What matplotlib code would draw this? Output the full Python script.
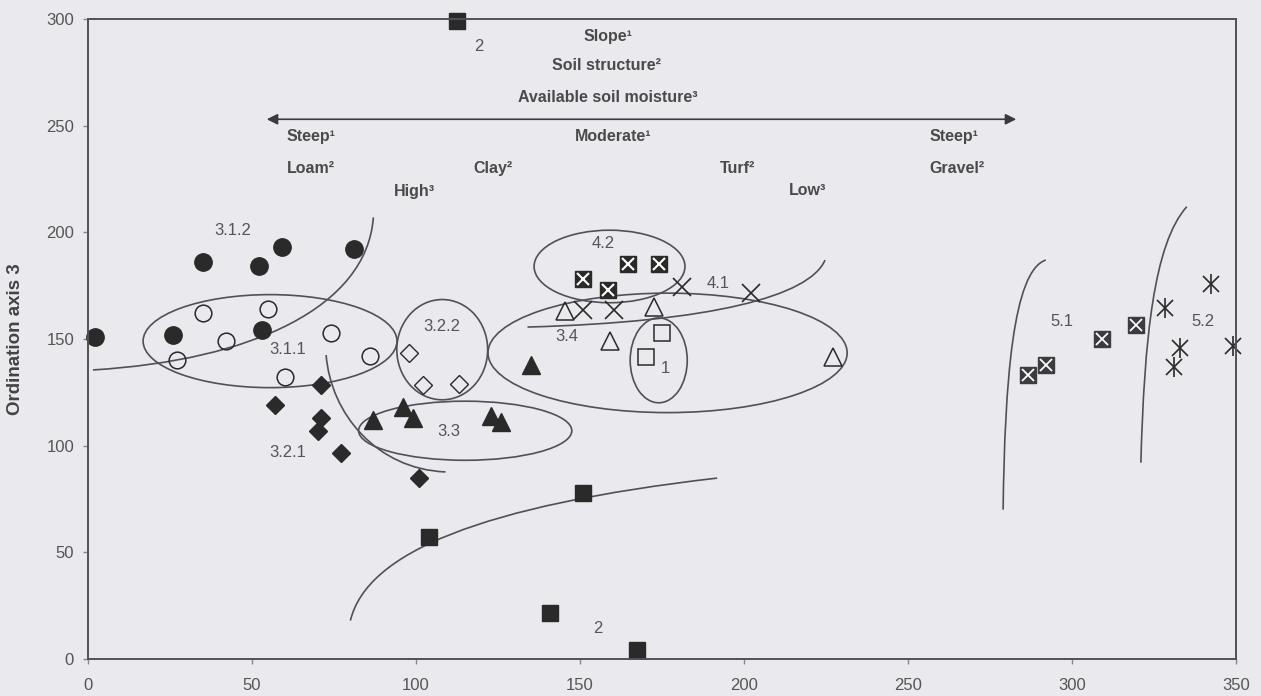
import matplotlib
matplotlib.use("Agg")
import matplotlib.pyplot as plt
from matplotlib.patches import Ellipse, PathPatch
from matplotlib.path import Path

plt.rcParams['font.family'] = ['Liberation Sans', 'DejaVu Sans']

# ordination scores
g312_x = [2, 26, 35, 52, 53, 59, 81]
g312_y = [151, 152, 186, 184, 154, 193, 192]
g311_x = [27, 35, 42, 55, 60, 74, 86]
g311_y = [140, 162, 149, 164, 132, 153, 142]
g321_x = [57, 70, 71, 71, 77, 101]
g321_y = [119, 107, 113, 128.5, 96.5, 85]
g322_x = [98, 102, 113]
g322_y = [143.5, 128.5, 129]
g33_x = [87, 96, 99, 123, 126, 135]
g33_y = [112, 118, 113, 114, 111, 138]
g34_x = [145.5, 159, 172.5, 227]
g34_y = [163, 149, 165, 141.5]
g1_x = [170, 175]
g1_y = [141.5, 153]
g41_x = [151, 160.5, 181, 202]
g41_y = [163.5, 163.5, 174.5, 171.5]
g42_x = [151, 158.5, 164.5, 174]
g42_y = [178, 173, 185, 185]
g2_x = [112.5, 104, 151, 141, 167.5]
g2_y = [299, 57, 78, 21.5, 4]
g51_x = [286.5, 292, 309, 319.5]
g51_y = [133, 138, 150, 156.5]
g52_x = [328.5, 331, 333, 342.5, 349]
g52_y = [164.5, 137, 146, 176, 146.5]

x_ticks = [0, 50, 100, 150, 200, 250, 300, 350]
y_ticks = [0, 50, 100, 150, 200, 250, 300]

# group outlines: (centre x, centre y, width, height)
ellipses = [(55.5, 149, 77.4, 43.6), (108, 145, 27.7, 47), (115, 107, 65, 27.7),
            (176.7, 143.5, 109.5, 56), (174, 140, 17.4, 39.8), (159, 184, 46, 34)]
# hand-drawn boundaries as cubic bezier control points
boundaries = [
    [(1.5, 135.5), (50, 140), (85, 165), (87, 207)],
    [(72.6, 142.5), (74, 115), (88, 89), (109, 87.7)],
    [(80, 18), (85, 50), (120, 72), (191.8, 84.8)],
    [(134, 155.6), (190, 158), (220, 170), (224.7, 187)],
    [(279, 70), (279.5, 130), (282, 182), (292, 187)],
    [(321, 92), (322, 150), (325, 195), (335, 212)],
]

group_labels = ["3.1.2", "3.1.1", "3.2.1", "3.2.2", "3.3", "3.4", "4.2", "4.1",
                "1", "2", "2", "5.1", "5.2"]
group_label_x = [44, 61, 61, 108, 110, 146, 157, 192, 176, 119, 155.5, 297, 340]
group_label_y = [201, 145, 97, 156, 106.5, 151, 195, 176, 136, 287, 14.5, 158, 158]

gradient_text = ["Slope¹", "Soil structure²", "Available soil moisture³",
                 "Steep¹", "Loam²", "High³", "Clay²", "Moderate¹", "Turf²", "Low³",
                 "Steep¹", "Gravel²"]
gradient_x = [158.5, 158, 158.5, 68, 68, 99.5, 123.5, 160, 198, 219.5, 264, 265]
gradient_y = [292, 278, 263, 245, 230, 219, 230, 245, 230, 219.5, 245, 230]

bg = "#e9e9ee"
ink = "#2a2a2a"
line_c = "#505058"
txt_c = "#555555"

fig = plt.figure(figsize=(12.61, 6.96), dpi=100, facecolor=bg)
ax = fig.add_axes([88 / 1261, 37 / 696, 1148 / 1261, 640 / 696])
ax.set_facecolor(bg)
ax.set_xlim(0, 350)
ax.set_ylim(0, 300)

for e in ellipses:
    ax.add_patch(Ellipse((e[0], e[1]), e[2], e[3], fill=False, ec=line_c, lw=1.2))
for b in boundaries:
    path = Path(b, [Path.MOVETO, Path.CURVE4, Path.CURVE4, Path.CURVE4])
    ax.add_patch(PathPatch(path, fill=False, ec=line_c, lw=1.2))

ax.plot(g312_x, g312_y, 'o', ms=12.5, color=ink, ls='none', clip_on=False)
ax.plot(g311_x, g311_y, 'o', ms=12, mfc='none', mec=ink, mew=1.1, ls='none')
ax.plot(g321_x, g321_y, 'D', ms=8.8, color=ink, ls='none')
ax.plot(g322_x, g322_y, 'D', ms=9.6, mfc='none', mec=ink, mew=1.0, ls='none')
ax.plot(g33_x, g33_y, '^', ms=13, color=ink, ls='none')
ax.plot(g34_x, g34_y, '^', ms=13, mfc='none', mec=ink, mew=1.1, ls='none')
ax.plot(g1_x, g1_y, 's', ms=11.5, mfc='none', mec=ink, mew=1.1, ls='none')
ax.plot(g41_x, g41_y, 'x', ms=12.5, color=ink, mew=1.2, ls='none')
ax.plot(g42_x, g42_y, 's', ms=12, color=ink, ls='none')
ax.plot(g42_x, g42_y, 'x', ms=9, color='white', mew=1.5, ls='none')
ax.plot(g2_x, g2_y, 's', ms=11, color=ink, ls='none', clip_on=False)
ax.plot(g51_x, g51_y, 's', ms=11.5, color='#3c3c40', ls='none')
ax.plot(g51_x, g51_y, 'x', ms=8.5, color='white', mew=1.3, ls='none')
ax.plot(g52_x, g52_y, 'x', ms=12, color=ink, mew=1.2, ls='none', clip_on=False)
ax.plot(g52_x, g52_y, '|', ms=14, color=ink, mew=1.2, ls='none', clip_on=False)

# environmental gradient arrow
ax.annotate('', xy=(54.5, 253), xytext=(283, 253),
            arrowprops=dict(arrowstyle='<|-|>', color='#3a3a40', lw=1.2,
                            mutation_scale=16, shrinkA=0, shrinkB=0))

for t, x, y in zip(gradient_text, gradient_x, gradient_y):
    ax.text(x, y, t, ha='center', va='center', fontsize=11.5, fontweight='bold', color='#4a4a4a')
for t, x, y in zip(group_labels, group_label_x, group_label_y):
    ax.text(x, y, t, ha='center', va='center', fontsize=12, color=txt_c)

ax.set_xticks(x_ticks)
ax.set_yticks(y_ticks)
ax.tick_params(axis='both', direction='out', length=3.5, width=1, color='#888888',
               labelsize=12, labelcolor=txt_c)
ax.tick_params(axis='y', pad=6.5)
ax.tick_params(axis='x', pad=10)
for s in ax.spines.values():
    s.set_color(line_c)
    s.set_linewidth(1.4)

ax.set_ylabel("Ordination axis 3", fontsize=13.5, fontweight='bold', color='#444444')
ax.yaxis.set_label_coords(-0.056, 0.5)

fig.savefig("out.png", dpi=100, facecolor=bg)
